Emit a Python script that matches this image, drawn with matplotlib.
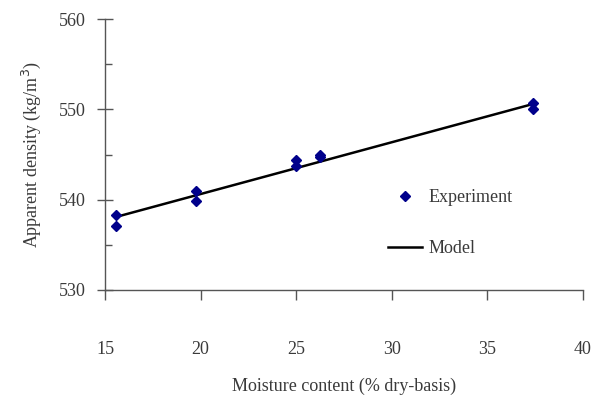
import numpy as np
import matplotlib.pyplot as plt
from matplotlib.ticker import MultipleLocator

plt.rcParams['font.family'] = ['Liberation Serif', 'DejaVu Serif']

# measured points (moisture % d.b., apparent density kg/m3)
moisture = [15.6, 15.6, 19.75, 19.75, 25.0, 25.0, 26.25, 26.25, 37.4, 37.4]
density = [538.3, 537.1, 541.0, 539.9, 544.4, 543.7, 545.0, 544.7, 550.7, 550.0]

# linear model
model_x = [15.6, 37.4]
model_y = [538.1, 550.6]

txt = '#3a3a3a'
fs = 13

fig = plt.figure(figsize=(6.02, 4.01), dpi=100)
ax = fig.add_axes([105/602, 1-290/401, 478/602, 271/401])

ax.plot(moisture, density, 'D', color='#00008b', markersize=5.2, label='Experiment', zorder=3)
ax.plot(model_x, model_y, '-', color='black', lw=1.8, label='Model')

ax.set_xlim(15, 40)
ax.set_ylim(530, 560)
ax.xaxis.set_major_locator(MultipleLocator(5))
ax.yaxis.set_major_locator(MultipleLocator(10))
ax.yaxis.set_minor_locator(MultipleLocator(5))

for s in ['top', 'right']:
    ax.spines[s].set_visible(False)
for s in ['left', 'bottom']:
    ax.spines[s].set_color('#555555')
    ax.spines[s].set_linewidth(1.0)

ax.tick_params(axis='x', direction='out', length=7, width=1, color='#555555',
               pad=30, labelsize=fs, labelcolor=txt)
ax.tick_params(axis='y', which='major', direction='inout', length=12, width=1,
               color='#555555', pad=8, labelsize=fs, labelcolor=txt)
ax.tick_params(axis='y', which='minor', direction='in', length=5, width=1, color='#555555')

ax.set_xlabel('Moisture content (% dry-basis)', fontsize=fs, color=txt, labelpad=14)
ax.set_ylabel('Apparent density (kg/m$^3$)', fontsize=fs, color=txt, labelpad=11)

leg = ax.legend(loc='upper left', bbox_to_anchor=(388/602, 1-189/401),
                bbox_transform=fig.transFigure, frameon=False, fontsize=fs,
                handlelength=1.9, handletextpad=0.35, labelspacing=1.9,
                borderpad=0, borderaxespad=0, markerscale=1.0)
for t in leg.get_texts():
    t.set_color(txt)

fig.savefig('out.png', dpi=100)
